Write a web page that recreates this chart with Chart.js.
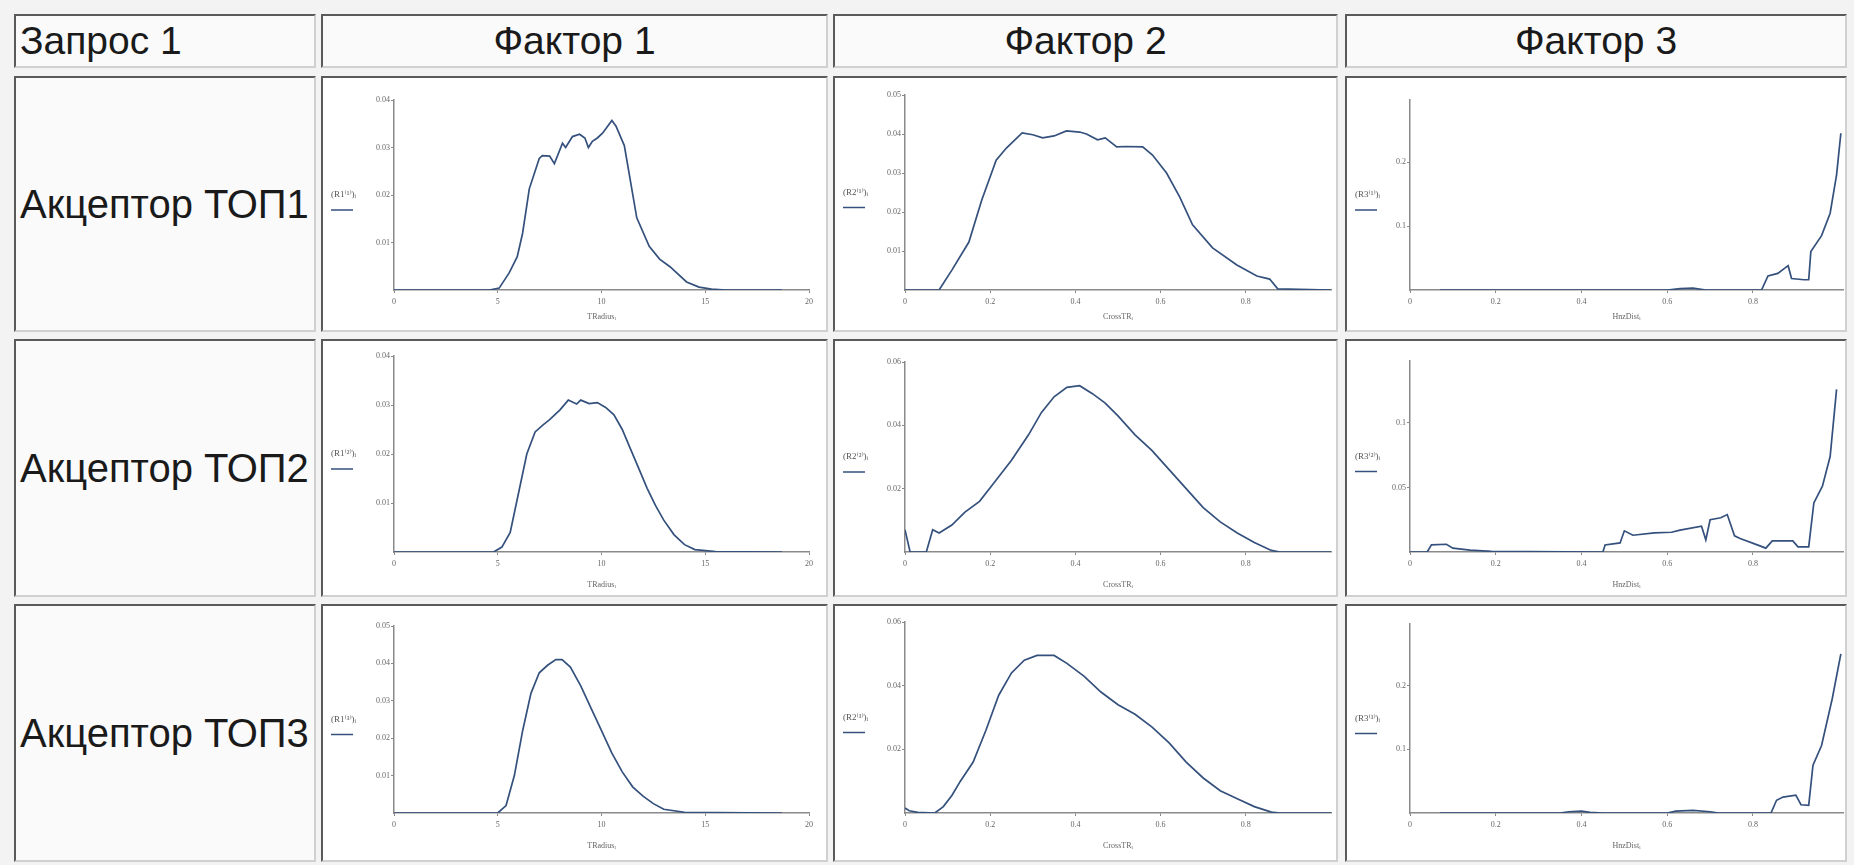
<!DOCTYPE html>
<html>
<head>
<meta charset="utf-8">
<script src="https://cdn.jsdelivr.net/npm/chart.js@4.4.0/dist/chart.umd.min.js"></script>
<style>
html,body{margin:0;padding:0;background:#f3f3f3;width:1854px;height:865px;overflow:hidden;font-family:'Liberation Sans',Arial,sans-serif}
.cell{position:absolute;box-sizing:border-box;border-style:solid;border-width:2px;border-color:#5a5a5a #d0d0d0 #d0d0d0 #5a5a5a;background:#fafafa}
.txt{font-size:39px;color:#1a1a1a;display:flex;align-items:center;white-space:nowrap}
.body{font-size:40px}
.center{justify-content:center}
.left{padding-left:4px}
.chartcell{background:#ffffff}
canvas{position:absolute;left:0;top:0}
</style>
</head>
<body>
<div id="root"></div>
<script>
// ---------- labels ----------
const headerLabels = ['Запрос 1', 'Фактор 1', 'Фактор 2', 'Фактор 3'];
const rowLabels = ['Акцептор ТОП1', 'Акцептор ТОП2', 'Акцептор ТОП3'];
const xTitles = ['TRadiusᵢ', 'CrossTRᵢ', 'HnzDistᵢ'];
const yNames = ['R1', 'R2', 'R3'];
const rowSup = ['⁽¹⁾', '⁽²⁾', '⁽³⁾'];

// ---------- tick labels ----------
const xTicksF1 = [0, 5, 10, 15, 20];
const xTicksF2 = [0, 0.2, 0.4, 0.6, 0.8];
const xTicksF3 = [0, 0.2, 0.4, 0.6, 0.8];
const yTicksF1Top1 = [0.01, 0.02, 0.03, 0.04];
const yTicksF1Top2 = [0.01, 0.02, 0.03, 0.04];
const yTicksF1Top3 = [0.01, 0.02, 0.03, 0.04, 0.05];
const yTicksF2Top1 = [0.01, 0.02, 0.03, 0.04, 0.05];
const yTicksF2Top2 = [0.02, 0.04, 0.06];
const yTicksF2Top3 = [0.02, 0.04, 0.06];
const yTicksF3Top1 = [0.1, 0.2];
const yTicksF3Top2 = [0.05, 0.1];
const yTicksF3Top3 = [0.1, 0.2];

// ---------- axis ranges ----------
const xMaxF = [20, 1.0, 1.01];
const yMaxTop1 = [0.04, 0.05, 0.297];
const yMaxTop2 = [0.04, 0.06, 0.148];
const yMaxTop3 = [0.05, 0.06, 0.297];

// ---------- series: Фактор 1 ----------
const f1Top1X = [0, 4.6, 5.07, 5.55, 5.94, 6.2, 6.52, 7.0, 7.15, 7.5, 7.73, 8.12, 8.27, 8.6, 8.94, 9.2, 9.37, 9.56, 9.8, 10.05, 10.5, 10.7, 11.1, 11.7, 12.3, 12.8, 13.3, 14.1, 14.7, 15.3, 16, 18.7];
const f1Top1Y = [0, 0, 0.0004, 0.0036, 0.007, 0.012, 0.0213, 0.0277, 0.0283, 0.0282, 0.0266, 0.0309, 0.030, 0.0323, 0.0328, 0.032, 0.030, 0.0313, 0.032, 0.033, 0.0357, 0.0345, 0.0304, 0.0152, 0.0092, 0.0065, 0.0049, 0.0017, 0.0006, 0.0002, 0, 0];
const f1Top2X = [0, 4.8, 5.2, 5.6, 6.0, 6.4, 6.8, 7.2, 7.5, 8.0, 8.4, 8.8, 9.0, 9.4, 9.8, 10.2, 10.6, 11.0, 11.4, 11.8, 12.2, 12.6, 13.0, 13.5, 14.0, 14.5, 15.5, 18.7];
const f1Top2Y = [0, 0, 0.001, 0.004, 0.012, 0.02, 0.0245, 0.026, 0.027, 0.029, 0.031, 0.0302, 0.031, 0.0303, 0.0305, 0.0295, 0.028, 0.025, 0.021, 0.017, 0.013, 0.0095, 0.0065, 0.0035, 0.0015, 0.0005, 0.0001, 0];
const f1Top3X = [0, 5.0, 5.4, 5.8, 6.2, 6.6, 7.0, 7.4, 7.8, 8.1, 8.5, 9.0, 9.5, 10.0, 10.5, 11.0, 11.5, 12.0, 12.5, 13.0, 14.0, 18.7];
const f1Top3Y = [0, 0, 0.002, 0.01, 0.022, 0.032, 0.0375, 0.0395, 0.041, 0.041, 0.039, 0.034, 0.028, 0.022, 0.016, 0.011, 0.007, 0.0045, 0.0025, 0.001, 0.0002, 0];

// ---------- series: Фактор 2 ----------
const f2Top1X = [0, 0.08, 0.11, 0.15, 0.18, 0.214, 0.238, 0.275, 0.3, 0.323, 0.35, 0.379, 0.41, 0.426, 0.452, 0.47, 0.497, 0.52, 0.558, 0.581, 0.614, 0.645, 0.675, 0.722, 0.779, 0.826, 0.856, 0.875, 1.0];
const f2Top1Y = [0, 0, 0.0051, 0.0123, 0.023, 0.0333, 0.0364, 0.0403, 0.0398, 0.039, 0.0395, 0.0408, 0.0405, 0.040, 0.0385, 0.039, 0.0367, 0.0368, 0.0367, 0.0346, 0.030, 0.0238, 0.0167, 0.0108, 0.0064, 0.0036, 0.0028, 0.0003, 0];
const f2Top2X = [0, 0.012, 0.05, 0.065, 0.08, 0.11, 0.14, 0.175, 0.21, 0.25, 0.29, 0.32, 0.35, 0.38, 0.41, 0.44, 0.47, 0.5, 0.54, 0.58, 0.62, 0.66, 0.7, 0.74, 0.78, 0.82, 0.86, 0.88, 1.0];
const f2Top2Y = [0.007, 0, 0, 0.007, 0.006, 0.0085, 0.0125, 0.016, 0.022, 0.029, 0.037, 0.044, 0.049, 0.052, 0.0525, 0.05, 0.047, 0.043, 0.037, 0.032, 0.026, 0.02, 0.014, 0.0095, 0.006, 0.003, 0.0005, 0, 0];
const f2Top3X = [0, 0.01, 0.03, 0.07, 0.09, 0.11, 0.13, 0.16, 0.19, 0.22, 0.25, 0.28, 0.31, 0.35, 0.38, 0.42, 0.46, 0.5, 0.54, 0.58, 0.62, 0.66, 0.7, 0.74, 0.78, 0.82, 0.86, 0.88, 1.0];
const f2Top3Y = [0.0016, 0.0007, 0.0002, 0, 0.002, 0.0055, 0.01, 0.016, 0.026, 0.037, 0.044, 0.048, 0.0495, 0.0495, 0.047, 0.043, 0.038, 0.034, 0.031, 0.027, 0.022, 0.016, 0.011, 0.007, 0.0045, 0.002, 0.0003, 0, 0];

// ---------- series: Фактор 3 ----------
const f3Top1X = [0.07, 0.6, 0.63, 0.66, 0.69, 0.82, 0.835, 0.858, 0.872, 0.882, 0.89, 0.919, 0.93, 0.935, 0.96, 0.98, 0.995, 1.005];
const f3Top1Y = [0, 0, 0.002, 0.003, 0, 0, 0.022, 0.026, 0.033, 0.038, 0.018, 0.016, 0.016, 0.06, 0.085, 0.12, 0.18, 0.245];
const f3Top2X = [0, 0.04, 0.05, 0.085, 0.1, 0.14, 0.19, 0.45, 0.455, 0.49, 0.5, 0.52, 0.57, 0.61, 0.63, 0.68, 0.69, 0.70, 0.725, 0.74, 0.757, 0.77, 0.81, 0.83, 0.845, 0.893, 0.905, 0.93, 0.942, 0.962, 0.98, 0.995];
const f3Top2Y = [0, 0, 0.0055, 0.006, 0.003, 0.0015, 0.0005, 0, 0.0055, 0.007, 0.0164, 0.013, 0.0148, 0.0153, 0.017, 0.02, 0.0094, 0.025, 0.0265, 0.029, 0.0125, 0.0105, 0.0055, 0.003, 0.0086, 0.0086, 0.004, 0.004, 0.038, 0.051, 0.074, 0.126];
const f3Top3X = [0.07, 0.35, 0.37, 0.4, 0.42, 0.45, 0.6, 0.62, 0.66, 0.7, 0.72, 0.842, 0.855, 0.87, 0.9, 0.912, 0.93, 0.94, 0.96, 0.985, 1.005];
const f3Top3Y = [0, 0, 0.002, 0.003, 0.001, 0, 0, 0.003, 0.004, 0.002, 0, 0, 0.02, 0.025, 0.028, 0.013, 0.012, 0.075, 0.106, 0.18, 0.25];

// ---------- assembly (tables built from arrays above) ----------
const seriesX = [[f1Top1X, f2Top1X, f3Top1X], [f1Top2X, f2Top2X, f3Top2X], [f1Top3X, f2Top3X, f3Top3X]];
const seriesY = [[f1Top1Y, f2Top1Y, f3Top1Y], [f1Top2Y, f2Top2Y, f3Top2Y], [f1Top3Y, f2Top3Y, f3Top3Y]];
const yTicksAll = [[yTicksF1Top1, yTicksF2Top1, yTicksF3Top1], [yTicksF1Top2, yTicksF2Top2, yTicksF3Top2], [yTicksF1Top3, yTicksF2Top3, yTicksF3Top3]];
const yMaxAll = [yMaxTop1, yMaxTop2, yMaxTop3];
const xTicksAll = [xTicksF1, xTicksF2, xTicksF3];

// ---------- layout (page geometry) ----------
const colLeft = [14, 321, 833, 1345], colW = [302, 507, 505, 502];
const rowTop = [14, 76, 339, 604], rowH = [54, 256, 258, 258];
const axisXpos = [394, 905, 1410];
const axisEndPos = [809, 1331, 1843];
const axisYpos = [290, 552, 813];
const axisTopPos = [[100, 95, 100], [356, 362, 361], [626, 622, 624]];
const xTitleOffset = [27, 33, 33];

const root = document.getElementById('root');
function mkCell(r, c, cls) {
  const d = document.createElement('div');
  d.className = 'cell ' + cls;
  d.style.left = colLeft[c] + 'px';
  d.style.top = rowTop[r] + 'px';
  d.style.width = colW[c] + 'px';
  d.style.height = rowH[r] + 'px';
  root.appendChild(d);
  return d;
}
headerLabels.forEach((t, c) => {
  const d = mkCell(0, c, 'txt ' + (c === 0 ? 'left' : 'center'));
  d.textContent = t;
});
rowLabels.forEach((t, r) => {
  const d = mkCell(r + 1, 0, 'txt body left');
  d.textContent = t;
});

const labelPlugin = {
  id: 'mcLabels',
  afterDraw(chart) {
    const o = chart.options.plugins.mcLabels;
    if (!o) return;
    const ctx = chart.ctx, a = chart.chartArea;
    ctx.save();
    const mid = (a.top + a.bottom) / 2;
    ctx.font = '9px "Liberation Serif", "DejaVu Serif", serif';
    ctx.fillStyle = '#555';
    ctx.textBaseline = 'alphabetic';
    ctx.textAlign = 'left';
    ctx.fillText(o.yText, 8, mid + 2);
    ctx.strokeStyle = '#34507c';
    ctx.lineWidth = 1.5;
    ctx.beginPath();
    ctx.moveTo(8, mid + 15);
    ctx.lineTo(30, mid + 15);
    ctx.stroke();
    ctx.textAlign = 'center';
    ctx.textBaseline = 'middle';
    ctx.font = '8px "Liberation Serif", "DejaVu Serif", serif';
    ctx.fillStyle = '#666';
    ctx.fillText(o.xText, (a.left + a.right) / 2, chart.scales.y.getPixelForValue(0) + o.xOff);
    ctx.restore();
  }
};
Chart.register(labelPlugin);

for (let r = 0; r < 3; r++) {
  for (let c = 0; c < 3; c++) {
    const cell = mkCell(r + 1, c + 1, 'chartcell');
    const cw = colW[c + 1] - 4, ch = rowH[r + 1] - 4;
    const cx0 = colLeft[c + 1] + 2, cy0 = rowTop[r + 1] + 2;
    const cv = document.createElement('canvas');
    cv.width = cw; cv.height = ch;
    cv.style.width = cw + 'px'; cv.style.height = ch + 'px';
    cell.appendChild(cv);
    const yW = axisXpos[c] - cx0;
    const padR = cx0 + cw - axisEndPos[c];
    const padT = axisTopPos[r][c] - cy0;
    const xH = cy0 + ch - axisYpos[r];
    const xs = seriesX[r][c], ys = seriesY[r][c];
    const pts = xs.map((x, i) => ({ x: x, y: ys[i] }));
    const xt = xTicksAll[c], yt = yTicksAll[r][c];
    const tickFont = { family: 'Liberation Serif', size: 8 };
    new Chart(cv, {
      type: 'line',
      data: { datasets: [{ data: pts, borderColor: '#34507c', borderWidth: 1.7, pointRadius: 0, tension: 0, fill: false }] },
      options: {
        responsive: false, animation: false, devicePixelRatio: 1,
        layout: { padding: { top: padT, right: padR, left: 0, bottom: 0 }, autoPadding: false },
        plugins: {
          legend: { display: false }, tooltip: { enabled: false },
          mcLabels: { yText: '(' + yNames[c] + rowSup[r] + ')ᵢ', xText: xTitles[c], xOff: xTitleOffset[r] }
        },
        scales: {
          x: {
            type: 'linear', min: 0, max: xMaxF[c],
            afterBuildTicks: s => { s.ticks = xt.map(v => ({ value: v })); },
            afterFit: s => { s.height = xH; },
            grid: { display: true, drawOnChartArea: false, tickLength: 3, color: '#888', lineWidth: 1 },
            border: { color: '#8a8a8a', width: 1.5 },
            ticks: { font: tickFont, color: '#666', padding: 4, maxRotation: 0, autoSkip: false, callback: v => String(v) }
          },
          y: {
            type: 'linear', min: 0, max: yMaxAll[r][c],
            afterBuildTicks: s => { s.ticks = yt.map(v => ({ value: v })); },
            afterFit: s => { s.width = yW; },
            grid: { display: true, drawOnChartArea: false, tickLength: 3, color: '#888', lineWidth: 1 },
            border: { color: '#8a8a8a', width: 1.5 },
            ticks: { font: tickFont, color: '#666', padding: 1, autoSkip: false, callback: v => String(v) }
          }
        }
      }
    });
  }
}
</script>
</body>
</html>
